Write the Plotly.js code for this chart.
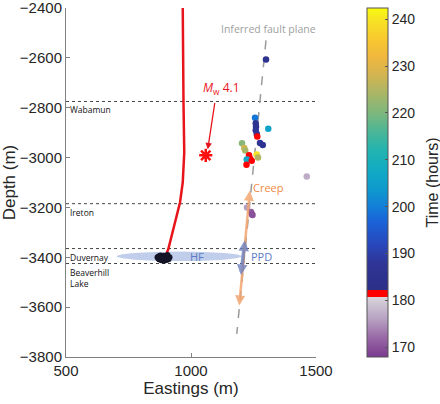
<!DOCTYPE html>
<html>
<head>
<meta charset="utf-8">
<script src="https://cdn.plot.ly/plotly-3.0.1.min.js"></script>
<style>html,body{margin:0;padding:0;background:#fff;}#chart{width:440px;height:404px;}</style>
</head>
<body>
<div id="chart"></div>
<script>
// ---- data ----
const eventEast  = [1300,1256,1259,1260,1259,1309,1263,1265,1276,1287,1204,1213,1217,1263,1268,1232,1236,1223,1243,1222,1463,1224,1240,1243,1246];
const eventDepth = [-2607,-2840,-2862,-2876,-2890,-2884,-2905,-2915,-2942,-2950,-2943,-2962,-2972,-2988,-3000,-2991,-3004,-3008,-3013,-3029,-3076,-3200,-3218,-3226,-3230];
const eventTime  = [185,199,186,185,187,206,186,181.5,188,186,221,228,224,240,225,181.5,181.5,207,181.5,181.5,177,176,171,170,170];

const hfEast  = [866,872,878,884,890,896,902,908,914,874,882,892,902,910,888,870,906];
const hfDepth = [-3400,-3396,-3393,-3398,-3394,-3401,-3396,-3403,-3400,-3409,-3412,-3414,-3411,-3408,-3405,-3406,-3391];

const wellEast  = [967,968,970,973,967,956,943,925,909,900];
const wellDepth = [-2400,-2600,-2780,-2980,-3100,-3180,-3232,-3300,-3368,-3390];

const mainshockEast = [1059];
const mainshockDepth = [-2991];

const faultEast  = [1300,1183];
const faultDepth = [-2530,-3707];

const formationNames  = ["Wabamun","Ireton","Duvernay","Beaverhill<br>Lake"];
const formationDepths = [-2775,-3185,-3365,-3425];

const hfEllipseEast  = [703,1203];
const hfEllipseDepth = [-3415,-3377];

const creepArrowEast  = [1236,1193];
const creepArrowDepth = [-3127,-3593];
const ppdArrowEast    = [1216,1200];
const ppdArrowDepth   = [-3327,-3471];
const mwArrowEast     = [1096,1067];
const mwArrowDepth    = [-2775,-2967];

const xTicks = [500,1000,1500];
const yTicks = [-3800,-3600,-3400,-3200,-3000,-2800,-2600,-2400];
const cTicks = [170,180,190,200,210,220,230,240];
const cMin = 167.9, cMax = 242.4;

// ---- colour scale (purple-grey before, red band = Mw 4.1, parula-like after) ----
const stops = [
  [167.9,'#7b3a8e'],[172,'#9868a6'],[176,'#b7a1c2'],[180.8,'#d9d7dc'],
  [180.8,'#ff0000'],[182.2,'#ff0000'],
  [182.2,'#2c2f86'],[188,'#2f3597'],[192,'#2848bd'],[197,'#1a64d9'],
  [200,'#137fd8'],[204,'#0e9bcd'],[208,'#12abc4'],[212,'#22b4b0'],
  [216,'#4bb697'],[220,'#7db77d'],[224,'#a8b667'],[228,'#d2b451'],
  [232,'#f0b73e'],[236,'#f8ca2f'],[240,'#f7e424'],[242.4,'#f9fb0e']
];
const colorscale = stops.map(s => [(s[0]-cMin)/(cMax-cMin), s[1]]);
colorscale[0][0] = 0; colorscale[colorscale.length-1][0] = 1;

const sans = 'Liberation Sans, Arial, sans-serif';
const labelFont = {family:sans, size:15, color:'#262626'};
const smallFont = {family:'Open Sans, sans-serif', size:8.5, color:'#111'};

const traces = [];

// formation dotted lines
formationDepths.forEach(d => {
  traces.push({x:[500,1500], y:[d,d], mode:'lines', line:{color:'#444', width:1, dash:'dot'}, hoverinfo:'skip', showlegend:false});
});

// well path
traces.push({x:wellEast, y:wellDepth, mode:'lines', line:{color:'#e8141b', width:2.5}, showlegend:false});

// HF events (black)
traces.push({x:hfEast, y:hfDepth, mode:'markers', marker:{color:'#141428', size:6}, showlegend:false});

// fault plane
traces.push({x:faultEast, y:faultDepth, mode:'lines', line:{color:'#9a9a9a', width:1.5, dash:'dash'}, showlegend:false});

// events colored by time
traces.push({x:eventEast, y:eventDepth, mode:'markers', showlegend:false,
  marker:{color:eventTime, cmin:cMin, cmax:cMax, colorscale:colorscale, size:6.5,
    colorbar:{x:1.204, xanchor:'left', xpad:0, y:0.5, yanchor:'middle', len:1, lenmode:'fraction', ypad:0,
      thickness:21, outlinewidth:1, outlinecolor:'#555',
      tickvals:cTicks, ticks:'inside', ticklen:3, tickcolor:'#555',
      tickfont:{family:sans, size:14, color:'#262626'},
      title:{text:''}}}});

// mainshock star
traces.push({x:mainshockEast, y:mainshockDepth, mode:'markers', showlegend:false,
  marker:{symbol:'asterisk-open', size:11, color:'#ff1010', line:{color:'#ff1010', width:2.5}}});

const annotations = [];
formationNames.forEach((n,i) => {
  annotations.push({x:500, y:formationDepths[i], xref:'x', yref:'y', text:n, showarrow:false,
    xanchor:'left', yanchor:'top', xshift:2, yshift:-1, align:'left', font:smallFont});
});
annotations.push({x:1308, y:-2530, text:'Inferred fault plane', showarrow:false, yanchor:'bottom', yshift:2,
  font:{family:'Open Sans, sans-serif', size:10.5, color:'#a0a0a0'}});
annotations.push({x:1120, y:-2722, text:'<i>M</i><sub>w</sub> 4.1', showarrow:false,
  font:{family:'Open Sans, sans-serif', size:12, color:'#e8141b'}});
annotations.push({x:mwArrowEast[1], y:mwArrowDepth[1], ax:mwArrowEast[0], ay:mwArrowDepth[0], axref:'x', ayref:'y',
  text:'', showarrow:true, arrowhead:2, arrowsize:1, arrowwidth:1.3, arrowcolor:'#e8141b', standoff:0});
annotations.push({x:creepArrowEast[1], y:creepArrowDepth[1], ax:creepArrowEast[0], ay:creepArrowDepth[0], axref:'x', ayref:'y',
  text:'', showarrow:true, arrowhead:2, arrowside:'end+start', arrowsize:0.8, arrowwidth:2.5, arrowcolor:'rgba(243,165,112,0.85)', standoff:0, startstandoff:0});
annotations.push({x:ppdArrowEast[1], y:ppdArrowDepth[1], ax:ppdArrowEast[0], ay:ppdArrowDepth[0], axref:'x', ayref:'y',
  text:'', showarrow:true, arrowhead:2, arrowside:'end+start', arrowsize:0.6, arrowwidth:3.5, arrowcolor:'rgba(108,128,190,0.8)', standoff:0, startstandoff:0});
annotations.push({x:1240, y:-3122, text:'Creep', showarrow:false, xanchor:'left',
  font:{family:'Open Sans, sans-serif', size:11, color:'#f08a45'}});
annotations.push({x:1230, y:-3396, text:'PPD', showarrow:false, xanchor:'left',
  font:{family:'Open Sans, sans-serif', size:11, color:'#5a7cc4'}});
annotations.push({x:1025, y:-3396, text:'HF', showarrow:false,
  font:{family:'Open Sans, sans-serif', size:11, color:'#5a7cc4'}});
// colorbar title
annotations.push({x:1.464, y:0.5, xref:'paper', yref:'paper', text:'Time (hours)', textangle:-90, showarrow:false,
  xanchor:'center', yanchor:'middle', font:{family:sans, size:16, color:'#262626'}});

const layout = {
  width:440, height:404,
  margin:{l:66, r:124, t:8, b:47, pad:0},
  paper_bgcolor:'#fff', plot_bgcolor:'#fff',
  showlegend:false,
  xaxis:{range:[500,1500], tickvals:xTicks, ticks:'inside', ticklen:4, tickcolor:'#808080',
    showline:true, linecolor:'#808080', linewidth:1, showgrid:false, zeroline:false, mirror:false,
    ticklabeloverflow:'allow',
    tickfont:labelFont, title:{text:'Eastings (m)', font:{family:sans, size:17, color:'#262626'}, standoff:4}},
  yaxis:{range:[-3800,-2400], tickvals:yTicks, ticks:'inside', ticklen:4, tickcolor:'#808080',
    showline:true, linecolor:'#808080', linewidth:1, showgrid:false, zeroline:false, mirror:false,
    ticklabeloverflow:'allow',
    tickfont:labelFont, title:{text:'Depth (m)', font:{family:sans, size:17, color:'#262626'}, standoff:2}},
  shapes:[{type:'circle', xref:'x', yref:'y', x0:hfEllipseEast[0], x1:hfEllipseEast[1], y0:hfEllipseDepth[0], y1:hfEllipseDepth[1],
    fillcolor:'rgba(150,172,222,0.6)', line:{width:0}, layer:'below'}],
  annotations:annotations
};

Plotly.newPlot('chart', traces, layout, {staticPlot:true, displayModeBar:false});
</script>
</body>
</html>
